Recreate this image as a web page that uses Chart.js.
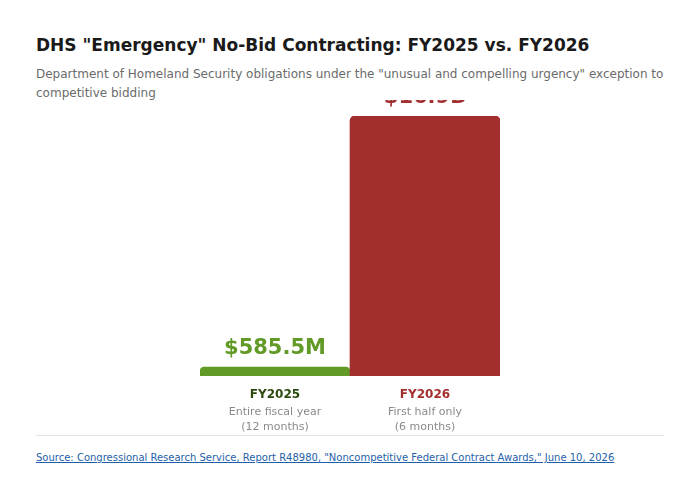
<!DOCTYPE html>
<html>
<head>
<meta charset="utf-8">
<script src="https://cdn.jsdelivr.net/npm/chart.js@4"></script>
<style>
  body { margin: 0; width: 700px; height: 501px; background: #fff; font-family: "DejaVu Sans", sans-serif; position: relative; overflow: hidden; }
  h1 { position: absolute; left: 36px; top: 35px; margin: 0; font-size: 17px; font-weight: bold; color: #1a1a1a; }
  .sub { position: absolute; left: 36px; top: 65px; width: 636px; font-size: 12px; line-height: 19px; color: #6b6b6b; }
  #wrap { position: absolute; left: 0; top: 100px; width: 700px; height: 335px; }
  .rule { position: absolute; left: 36px; top: 435px; width: 628px; border-top: 1px solid #e2e2e2; }
  .src { position: absolute; left: 36px; top: 452px; font-size: 10px; color: #1f5fa8; text-decoration: underline; }
</style>
</head>
<body>
<h1>DHS "Emergency" No-Bid Contracting: FY2025 vs. FY2026</h1>
<div class="sub">Department of Homeland Security obligations under the "unusual and compelling urgency" exception to competitive bidding</div>
<div id="wrap"><canvas id="chart"></canvas></div>
<div class="rule"></div>
<div class="src">Source: Congressional Research Service, Report R48980, "Noncompetitive Federal Contract Awards," June 10, 2026</div>
<script>
const categories = ['FY2025', 'FY2026'];
const values = [0.5855, 16.9]; // billions
const valueLabels = ['$585.5M', '$16.9B'];
const subLabels = [['Entire fiscal year', '(12 months)'], ['First half only', '(6 months)']];
const barColors = ['#629a27', '#a32e2e'];
const nameColors = ['#2c4a10', '#a32e2e'];

const labelPlugin = {
    id: 'labels',
    afterDatasetsDraw(chart) {
        const ctx = chart.ctx;
        const meta = chart.getDatasetMeta(0);
        const base = chart.scales.y.getPixelForValue(0);
        ctx.save();
        ctx.textAlign = 'center';
        meta.data.forEach((bar, i) => {
            ctx.fillStyle = barColors[i];
            ctx.font = 'bold 21px "DejaVu Sans"';
            ctx.textBaseline = 'alphabetic';
            ctx.fillText(valueLabels[i], bar.x, bar.y - 13);
            ctx.fillStyle = nameColors[i];
            ctx.font = 'bold 12px "DejaVu Sans"';
            ctx.fillText(categories[i], bar.x, base + 22);
            ctx.fillStyle = '#8a8a8a';
            ctx.font = '11px "DejaVu Sans"';
            ctx.fillText(subLabels[i][0], bar.x, base + 39);
            ctx.fillText(subLabels[i][1], bar.x, base + 54);
        });
        ctx.restore();
    }
};

new Chart(document.getElementById('chart'), {
    type: 'bar',
    data: {
        labels: categories,
        datasets: [{
            data: values,
            backgroundColor: barColors,
            borderRadius: { topLeft: 5, topRight: 5 },
            borderSkipped: 'bottom',
            categoryPercentage: 1,
            barPercentage: 1
        }]
    },
    options: {
        responsive: true,
        maintainAspectRatio: false,
        animation: false,
        layout: { padding: { left: 200, right: 200, top: 16, bottom: 59 } },
        plugins: { legend: { display: false }, tooltip: { enabled: false } },
        scales: {
            x: { display: false },
            y: { display: false, min: 0, max: 16.9 }
        }
    },
    plugins: [labelPlugin]
});
</script>
</body>
</html>
